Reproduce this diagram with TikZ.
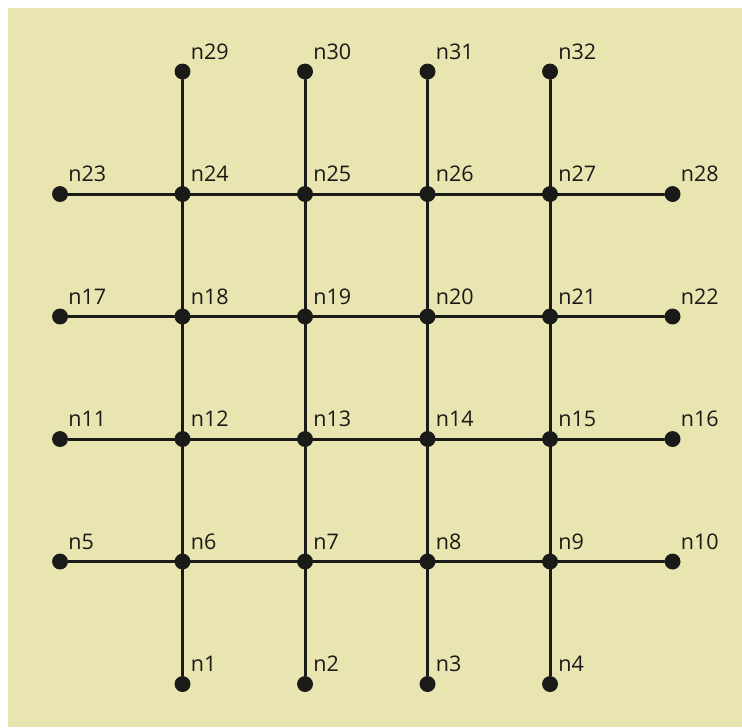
\documentclass[tikz,border=0pt]{standalone}
\usepackage{fontspec}
\setmainfont{Open Sans}
\definecolor{paper}{RGB}{233,229,176}
\definecolor{ink}{RGB}{26,26,24}
\tikzset{
  dot/.style={circle, fill=ink, inner sep=0pt, minimum size=0.26cm},
  tag/.style={anchor=base west, inner sep=0pt, text=ink},
  wire/.style={draw=ink, line width=1.4pt}
}
\begin{document}
\begin{tikzpicture}[scale=2, font=\fontsize{10}{12}\selectfont, line cap=round]
	\useasboundingbox (-0.49,-0.351) rectangle (5.567,5.584);
	\fill[paper] (-0.424,-0.351) rectangle (5.567,5.518);
	% bottom and top ends
	\foreach \c in {1,...,4}{
		\pgfmathtruncatemacro\k{28+\c}
		\node[dot] (n\c) at (\c,0) {};
		\node[dot] (n\k) at (\c,5) {};
	}
	% the four full rows
	\foreach \r in {1,...,4}
	\foreach \c in {0,...,5}{
		\pgfmathtruncatemacro\k{5+6*(\r-1)+\c}
		\node[dot] (n\k) at (\c,\r) {};
	}
	% rows
	\foreach \r in {1,...,4}{
		\pgfmathtruncatemacro\a{5+6*(\r-1)}
		\pgfmathtruncatemacro\b{\a+5}
		\draw[wire] (n\a) -- (n\b);
	}
	% columns
	\foreach \c in {1,...,4}{
		\pgfmathtruncatemacro\b{28+\c}
		\draw[wire] (n\c) -- (n\b);
	}
	\foreach \k in {1,...,32}
	\node[tag] (t\k) at ([shift={(0.065,0.1)}]n\k.center) {n\k};
\end{tikzpicture}
\end{document}
